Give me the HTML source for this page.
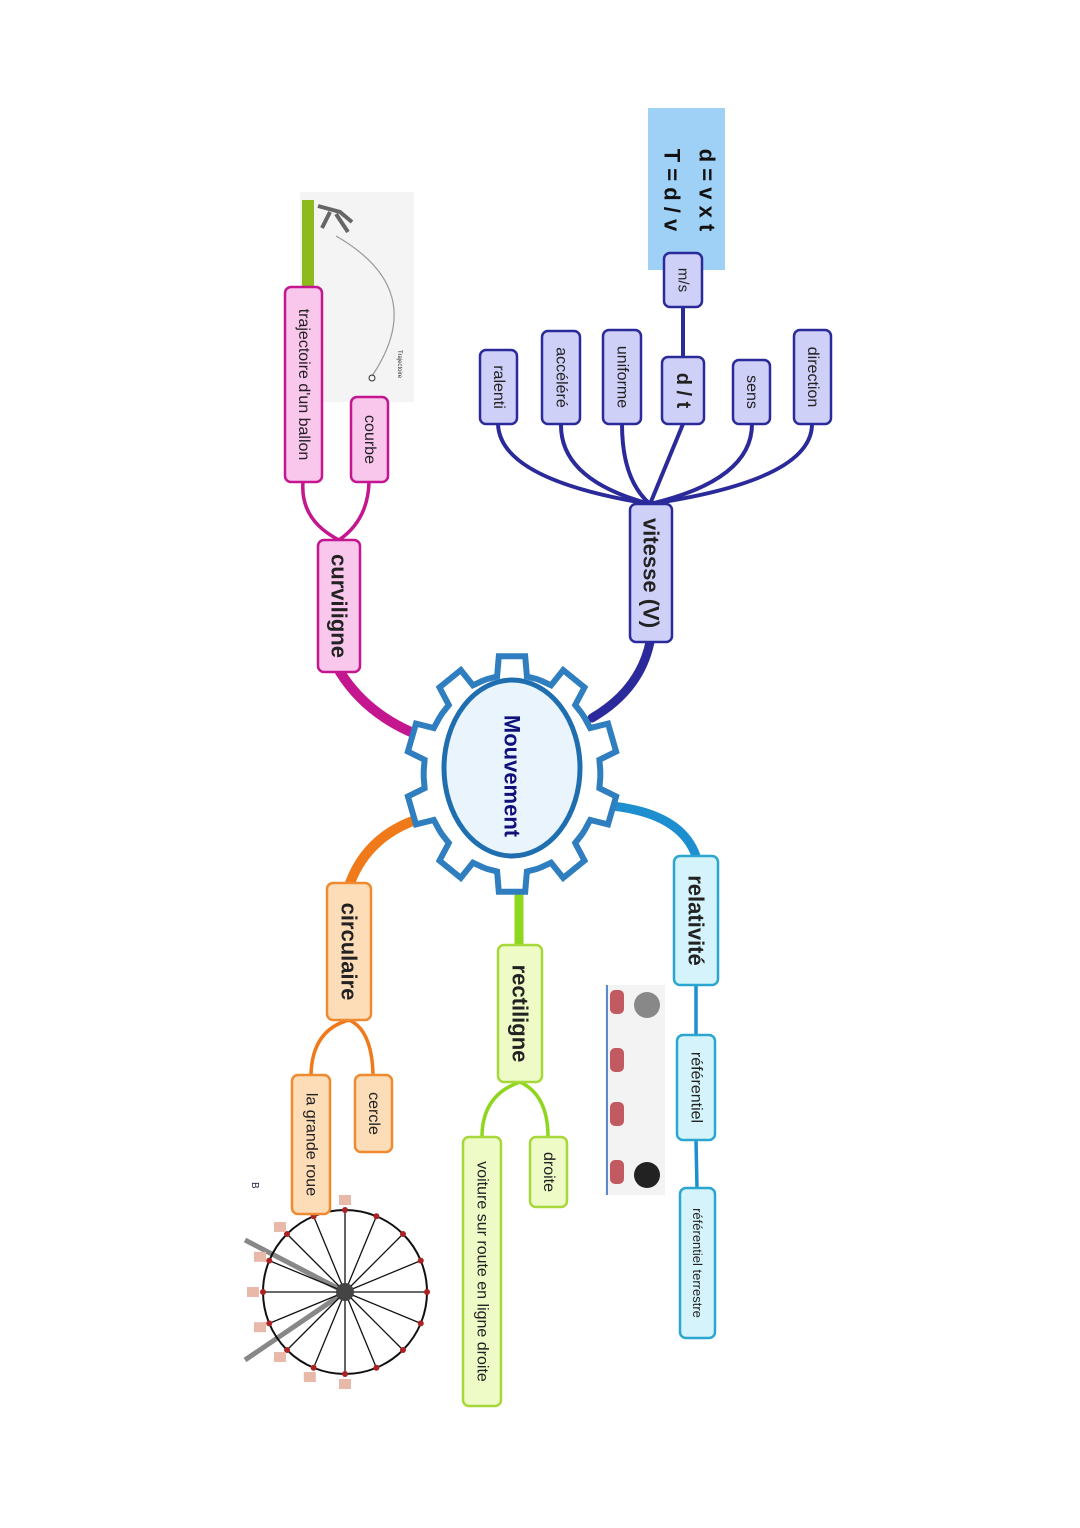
<!DOCTYPE html>
<html><head><meta charset="utf-8"><style>
html,body{margin:0;padding:0;background:#fff;}
svg{display:block;font-family:"Liberation Sans",sans-serif;}
</style></head><body>
<svg id="s" width="1080" height="1528" viewBox="0 0 1080 1528" xmlns="http://www.w3.org/2000/svg">
<rect width="1080" height="1528" fill="#fff"/>
<!-- images -->
<rect x="300" y="192" width="114" height="210" fill="#f4f4f4"/>
<rect x="302" y="200" width="12" height="92" fill="#8dbb1e"/>
<path d="M336 236 Q430 290 372 376" fill="none" stroke="#999" stroke-width="1.2"/>
<circle cx="372" cy="378" r="3" fill="none" stroke="#333"/>
<path d="M318 206 L340 212 L352 222 M330 212 L322 228 M336 214 L348 232" stroke="#666" stroke-width="4" fill="none"/>
<text x="0" y="0" font-size="6" transform="translate(398,350) rotate(90)" fill="#333">Trajectoire</text>
<rect x="605" y="985" width="60" height="210" fill="#f3f3f3"/>
<line x1="607" y1="985" x2="607" y2="1195" stroke="#5a8ac8" stroke-width="2"/>
<circle cx="647" cy="1005" r="13" fill="#888"/>
<circle cx="647" cy="1175" r="13" fill="#222"/>
<g fill="#c25a62"><rect x="610" y="990" width="14" height="24" rx="5"/><rect x="610" y="1048" width="14" height="24" rx="5"/><rect x="610" y="1102" width="14" height="24" rx="5"/><rect x="610" y="1160" width="14" height="24" rx="5"/></g>
<g id="wheel"></g>
<!-- connectors -->
<g fill="none" stroke-linecap="round">
<path d="M592 718 Q640 690 650 642" stroke="#2b2a9a" stroke-width="9"/>
<path d="M432 740 Q370 720 340 672" stroke="#c4168f" stroke-width="10"/>
<path d="M432 815 Q370 830 350 883" stroke="#f07a1a" stroke-width="10"/>
<path d="M519 895 L519 945" stroke="#8fd61e" stroke-width="9"/>
<path d="M600 805 Q680 810 696 856" stroke="#1d8fd0" stroke-width="9"/>
<g stroke="#2b2a9a" stroke-width="4">
<path d="M650 504 Q500 480 498 424"/><path d="M650 504 Q560 480 561 424"/><path d="M650 504 Q622 480 622 424"/><path d="M650 504 L683 424"/><path d="M650 504 Q752 480 752 424"/><path d="M650 504 Q812 480 812 424"/><path d="M683 357 L683 307"/>
</g>
<g stroke="#c4168f" stroke-width="3.5"><path d="M339 540 Q300 520 303 482"/><path d="M339 540 Q368 520 369 482"/></g>
<g stroke="#f07a1a" stroke-width="3.5"><path d="M349 1020 Q312 1030 311 1075"/><path d="M349 1020 Q372 1030 373 1075"/></g>
<g stroke="#8fd61e" stroke-width="3.5"><path d="M520 1082 Q482 1095 482 1137"/><path d="M520 1082 Q548 1095 548 1137"/></g>
<g stroke="#1d8fd0" stroke-width="3.5"><path d="M696 985 L696 1035"/><path d="M696 1140 L697 1188"/></g>
</g>
<!-- gear -->
<path id="gear" fill="#fff" stroke="#2f7fc0" stroke-width="6"/>
<ellipse cx="512" cy="768" rx="68" ry="88" fill="#eaf4fc" stroke="#1f6fb0" stroke-width="5"/>
<text font-size="22" font-weight="bold" fill="#10107a" text-anchor="middle" dominant-baseline="central" transform="translate(512,776) rotate(90)">Mouvement</text>
<!-- formula -->
<rect x="648" y="108" width="77" height="162" fill="#9fd0f5"/>
<text font-size="22" font-weight="bold" fill="#111" text-anchor="middle" dominant-baseline="central" transform="translate(707,190) rotate(90)">d = v x t</text>
<text font-size="22" font-weight="bold" fill="#111" text-anchor="middle" dominant-baseline="central" transform="translate(672,190) rotate(90)">T = d / v</text>
<g id="boxes"></g>
</svg>
<script>
var B=[
[664,253,702,307,'m/s',15,0,'#cfd0f8','#2b2a9a'],
[662,357,704,424,'d / t',20,1,'#cfd0f8','#2b2a9a'],
[480,350,517,424,'ralenti',16,0,'#cfd0f8','#2b2a9a'],
[542,331,580,424,'accéléré',16,0,'#cfd0f8','#2b2a9a'],
[603,330,641,424,'uniforme',16,0,'#cfd0f8','#2b2a9a'],
[733,360,770,424,'sens',16,0,'#cfd0f8','#2b2a9a'],
[794,330,831,424,'direction',16,0,'#cfd0f8','#2b2a9a'],
[630,504,672,642,'vitesse (V)',22,1,'#cfd0f8','#2b2a9a'],
[318,540,360,672,'curviligne',22,1,'#f9c6ec','#c4168f'],
[351,397,388,482,'courbe',16,0,'#f9c6ec','#c4168f'],
[285,287,322,482,"trajectoire d'un ballon",16,0,'#f9c6ec','#c4168f'],
[327,883,371,1020,'circulaire',22,1,'#fddcb8','#f08a30'],
[355,1075,392,1152,'cercle',16,0,'#fddcb8','#f08a30'],
[292,1075,330,1214,'la grande roue',16,0,'#fddcb8','#f08a30'],
[498,945,542,1082,'rectiligne',22,1,'#eefbc6','#a6d83a'],
[530,1137,567,1207,'droite',16,0,'#eefbc6','#a6d83a'],
[463,1137,501,1406,'voiture sur route en ligne droite',16,0,'#eefbc6','#a6d83a'],
[674,856,718,985,'relativité',22,1,'#d4f3fb','#2aa6d0'],
[677,1035,715,1140,'référentiel',16,0,'#d4f3fb','#2aa6d0'],
[680,1188,715,1338,'référentiel terrestre',13,0,'#d4f3fb','#2aa6d0']];
var h='';
B.forEach(function(b){h+='<rect x="'+b[0]+'" y="'+b[1]+'" width="'+(b[2]-b[0])+'" height="'+(b[3]-b[1])+'" rx="6" fill="'+b[7]+'" stroke="'+b[8]+'" stroke-width="2.5"/>';
h+='<text font-size="'+b[5]+'" font-weight="'+(b[6]?'bold':'normal')+'" fill="#222" text-anchor="middle" dominant-baseline="central" transform="translate('+((b[0]+b[2])/2)+','+((b[1]+b[3])/2)+') rotate(90)">'+b[4]+'</text>';});
document.getElementById('boxes').innerHTML=h;
// gear
var n=10,cx=512,cy=774,p=[];
for(var i=0;i<n;i++){var a0=i*2*Math.PI/n;var t=[[-0.5,1],[-0.3,1],[-0.22,1.2],[0.22,1.2],[0.3,1],[0.5,1]];
t.forEach(function(q){var a=a0+q[0]*2*Math.PI/n*0.9;var r=q[1]*96;p.push((cx+Math.sin(a)*r*0.92).toFixed(1)+','+(cy-Math.cos(a)*r*1.03).toFixed(1));});}
document.getElementById('gear').setAttribute('d','M'+p.join(' L')+'Z');
// wheel
var w='',wx=345,wy=1292,R=82;
w+='<line x1="245" y1="1240" x2="345" y2="1292" stroke="#888" stroke-width="5"/><line x1="245" y1="1360" x2="345" y2="1292" stroke="#888" stroke-width="5"/>';
w+='<circle cx="'+wx+'" cy="'+wy+'" r="'+R+'" fill="none" stroke="#111" stroke-width="2"/>';
for(var k=0;k<16;k++){var a=k*Math.PI/8;var x=wx+Math.cos(a)*R,y=wy+Math.sin(a)*R;
w+='<line x1="'+wx+'" y1="'+wy+'" x2="'+x+'" y2="'+y+'" stroke="#111" stroke-width="1.3"/><circle cx="'+x+'" cy="'+y+'" r="3" fill="#a22"/>';
var cx2=wx+Math.cos(a)*(R+10)-6,cy2=wy+Math.sin(a)*(R+10)-5;if(Math.cos(a)<0.3)w+='<rect x="'+cx2+'" y="'+cy2+'" width="12" height="10" fill="#e8b8a8"/>';}
w+='<circle cx="'+wx+'" cy="'+wy+'" r="9" fill="#444"/>';
w+='<text x="248" y="1186" font-size="10" fill="#224" transform="rotate(90 252 1186)">B</text>';
document.getElementById('wheel').innerHTML=w;
</script>
</body></html>
